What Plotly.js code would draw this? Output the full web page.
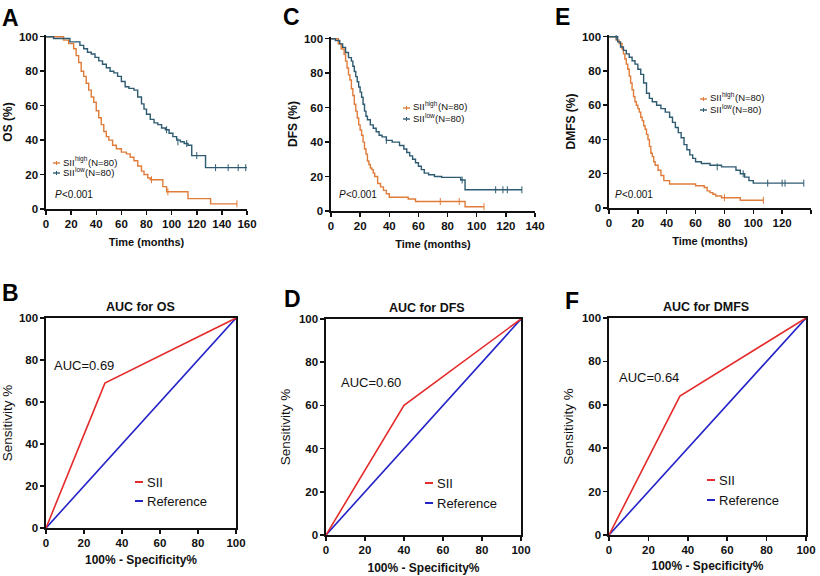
<!DOCTYPE html>
<html>
<head>
<meta charset="utf-8">
<script src="https://cdn.plot.ly/plotly-3.0.1.min.js"></script>
<style>
  html, body { margin: 0; padding: 0; background: #fff; }
  #chart { width: 820px; height: 576px; }
</style>
</head>
<body>
<div id="chart"></div>
<script>
// ---- Kaplan-Meier data (time in months, survival in %) ----
// A: OS
const osHighT = [0,14,18,22,24,26,28,30,32,34,36,38,40,42,44,46,48,50,53,56,60,64,67,70,73,76,78,81,83,93,96,113,131,152];
const osHighS = [100,98,96,93,89,85,80,77,73,69,65,62,57,53,49,45,42,40,37,35,33,32,30,28,25,22,20,18,17,13,10,6,3,3];
const osLowT = [0,6,19,27,30,33,36,39,42,45,48,51,54,57,60,63,66,70,73,76,78,80,83,86,89,92,95,98,101,104,107,110,113,116,127,160];
const osLowS = [100,99,97,95,93,91,90,88,86,84,82,80,79,77,74,71,70,69,65,61,58,55,52,50,49,47,46,44,42,40,39,38,37,31,24,24];
const osHighCensT = [84, 97, 152];
const osHighCensS = [17, 10, 3];
const osLowCensT = [96, 105, 112, 120, 135, 145, 153, 159];
const osLowCensS = [46, 39, 38, 31, 24, 24, 24, 24];

// C: DFS
const dfsHighT = [0,5,7,9,10,11,12,13,14,15,16,17,18,19,20,21,22,23,24,25,26,27,28,29,30,32,34,36,38,40,53,58,92,105];
const dfsHighS = [100,97,94,91,87,83,79,76,71,67,62,58,54,50,47,44,40,36,33,29,27,25,24,22,20,16,14,12,10,8,7,5.5,2.5,2.5];
const dfsLowT = [0,3,6,8,10,12,14,15,16,17,18,19,20,21,22,23,24,25,27,29,31,33,35,38,42,47,50,52,54,56,58,60,62,64,67,71,76,89,92,131];
const dfsLowS = [100,99,97,95,92,89,87,84,81,78,75,72,69,66,62,58,55,53,50,48,46,44,43,41,40,38,36,34,32,30,28,26,24,22,21,20,19.5,18,12.3,12.3];
const dfsHighCensT = [75, 88, 105];
const dfsHighCensS = [5.5, 5.5, 2.5];
const dfsLowCensT = [38, 90, 113, 118, 121, 131];
const dfsLowCensS = [41, 18, 12.3, 12.3, 12.3, 12.3];

// E: DMFS
const dmfsHighT = [0,5,7,9,10,11,12,13,14,15,16,17,18,19,20,21,22,23,24,25,26,27,28,29,30,31,32,34,36,38,42,60,66,68,70,72,74,78,91,107];
const dmfsHighS = [100,98,96,93,90,87,84,81,77,73,69,65,62,60,58,56,53,51,48,46,43,40,36,32,30,27,25,22,19,16,14,13,12,10,9,8,7,6,4.5,4.5];
const dmfsLowT = [0,6,8,10,12,14,16,18,20,22,24,26,28,30,33,36,39,42,44,46,48,50,52,54,56,58,60,64,70,78,88,91,94,97,100,135];
const dmfsLowS = [100,97,94,92,90,88,86,84,81,78,73,67,64,62,60,58,56,53,50,47,44,41,37,34,31,29,27,26,25,24,22,20,18,16,14.5,14.5];
const dmfsHighCensT = [80, 107];
const dmfsHighCensS = [6, 4.5];
const dmfsLowCensT = [5, 75, 93, 110, 120, 122, 135];
const dmfsLowCensS = [100, 24, 20, 14.5, 14.5, 14.5, 14.5];

// ---- ROC data (100% - specificity, sensitivity) ----
const rocOsX = [0, 31, 100];
const rocOsY = [0, 69, 100];
const rocDfsX = [0, 40, 100];
const rocDfsY = [0, 60, 100];
const rocDmfsX = [0, 36, 100];
const rocDmfsY = [0, 64, 100];
const refX = [0, 100];
const refY = [0, 100];

const aucLabels = ['AUC=0.69', 'AUC=0.60', 'AUC=0.64'];
const rocTitles = ['AUC for OS', 'AUC for DFS', 'AUC for DMFS'];
const kmYTitles = ['OS (%)', 'DFS (%)', 'DMFS (%)'];
const groupNames = ['high', 'low'];

const ORANGE = '#E07C3A';
const TEAL = '#2E5B72';
const RED = '#E52B2B';
const BLUE = '#2323C8';
const FONT = 'Liberation Sans, Arial, sans-serif';

const W = 820, H = 576;
const px = x => x / W;
const py = y => 1 - y / H;

// text width, used to place the superscript pieces of the legends
const ctx = document.createElement('canvas').getContext('2d');
function textW(s, size, style) {
  ctx.font = (style || '') + ' ' + size + 'px "Liberation Sans", Arial, sans-serif';
  return ctx.measureText(s).width;
}

function kmPair(hT, hS, lT, lS, hcT, hcS, lcT, lcS, n) {
  const xa = 'x' + (n === 1 ? '' : n), ya = 'y' + (n === 1 ? '' : n);
  return [
    { x: hT, y: hS, xaxis: xa, yaxis: ya, mode: 'lines', line: { shape: 'hv', color: ORANGE, width: 1.4 }, showlegend: false, hoverinfo: 'skip' },
    { x: lT, y: lS, xaxis: xa, yaxis: ya, mode: 'lines', line: { shape: 'hv', color: TEAL, width: 1.4 }, showlegend: false, hoverinfo: 'skip' },
    { x: hcT, y: hcS, xaxis: xa, yaxis: ya, mode: 'markers', marker: { symbol: 'line-ns', size: 5, line: { color: ORANGE, width: 1 } }, showlegend: false, hoverinfo: 'skip' },
    { x: lcT, y: lcS, xaxis: xa, yaxis: ya, mode: 'markers', marker: { symbol: 'line-ns', size: 5, line: { color: TEAL, width: 1 } }, showlegend: false, hoverinfo: 'skip' }
  ];
}

function rocPair(sx, sy, n) {
  const xa = 'x' + n, ya = 'y' + n;
  return [
    { x: refX, y: refY, xaxis: xa, yaxis: ya, mode: 'lines', line: { color: BLUE, width: 1.6 }, showlegend: false, hoverinfo: 'skip' },
    { x: sx, y: sy, xaxis: xa, yaxis: ya, mode: 'lines', line: { color: RED, width: 1.6 }, showlegend: false, hoverinfo: 'skip' }
  ];
}

const data = [].concat(
  kmPair(osHighT, osHighS, osLowT, osLowS, osHighCensT, osHighCensS, osLowCensT, osLowCensS, 1),
  kmPair(dfsHighT, dfsHighS, dfsLowT, dfsLowS, dfsHighCensT, dfsHighCensS, dfsLowCensT, dfsLowCensS, 2),
  kmPair(dmfsHighT, dmfsHighS, dmfsLowT, dmfsLowS, dmfsHighCensT, dmfsHighCensS, dmfsLowCensT, dmfsLowCensS, 3),
  rocPair(rocOsX, rocOsY, 4),
  rocPair(rocDfsX, rocDfsY, 5),
  rocPair(rocDmfsX, rocDmfsY, 6)
);

const tickFont = { family: FONT, size: 11.5, color: '#111', weight: 'bold' };

function baseAx() {
  return { showline: true, linecolor: '#111', linewidth: 1.6, ticks: 'outside', ticklen: 4, tickwidth: 1.5, tickcolor: '#111',
    showgrid: false, zeroline: false, tickfont: tickFont, fixedrange: true, automargin: false };
}
function kmX(dom, max, n) {
  return Object.assign(baseAx(), { domain: dom, range: [0, max], dtick: 20, anchor: 'y' + (n === 1 ? '' : n),
    title: { text: 'Time (months)', font: { family: FONT, size: 11, color: '#111', weight: 'bold' }, standoff: 9 } });
}
function kmY(dom, n, title) {
  return Object.assign(baseAx(), { domain: dom, range: [0, 101], tickvals: [0, 20, 40, 60, 80, 100], anchor: 'x' + (n === 1 ? '' : n),
    title: { text: title, font: { family: FONT, size: 12, color: '#111', weight: 'bold' }, standoff: 4 } });
}
function rocX(dom, n, standoff) {
  return Object.assign(baseAx(), { domain: dom, range: [0, 100], dtick: 20, anchor: 'y' + n, mirror: true,
    title: { text: '100% - Specificity%', font: { family: FONT, size: 12, color: '#111', weight: 'bold' }, standoff: standoff } });
}
function rocY(dom, n) {
  return Object.assign(baseAx(), { domain: dom, range: [0, 100], dtick: 20, anchor: 'x' + n, mirror: true,
    title: { text: 'Sensitivity %', font: { family: FONT, size: 13.5, color: '#111' }, standoff: 5 } });
}

const ann = [];
function txt(x, y, text, font, opts) {
  ann.push(Object.assign({ xref: 'paper', yref: 'paper', x: px(x), y: py(y), text: text, showarrow: false,
    xanchor: 'left', yanchor: 'middle', borderpad: 0,
    font: Object.assign({ family: FONT, size: 10, color: '#111' }, font || {}) }, opts || {}));
}
const shapes = [];
function glyph(x0, x1, y, color, width, tick) {
  shapes.push({ type: 'line', xref: 'paper', yref: 'paper', x0: px(x0), x1: px(x1), y0: py(y), y1: py(y), line: { color: color, width: width } });
  if (tick) {
    const xm = (x0 + x1) / 2;
    shapes.push({ type: 'line', xref: 'paper', yref: 'paper', x0: px(xm), x1: px(xm), y0: py(y - 2), y1: py(y + 2), line: { color: color, width: 1 } });
  }
}

// panel letters
const letters = [['A', 1, 18], ['C', 282, 17], ['E', 554, 17], ['B', 1, 293], ['D', 283, 299], ['F', 564, 301]];
letters.forEach(l => txt(l[1], l[2], l[0], { size: 23, color: '#000', weight: 'bold' }));

// KM legends: "SII" + superscript group + "(N=80)"
const legSize = 9.5, supSize = 6.5;
const kmLeg = [[53, 162, 172], [403, 107, 118], [700, 98, 109]];
kmLeg.forEach(l => {
  [ORANGE, TEAL].forEach((c, g) => {
    const y = l[g + 1];
    const x0 = l[0] + 9;
    glyph(l[0], l[0] + 7, y + 1, c, 1.4, true);
    txt(x0, y, 'SII', { size: legSize });
    const xs = x0 + textW('SII', legSize) + 0.5;
    txt(xs, y - 3, groupNames[g], { size: supSize });
    txt(xs + textW(groupNames[g], supSize) + 0.5, y, '(N=80)', { size: legSize });
  });
});
// P values
[[54, 194], [338, 194], [614, 194]].forEach(p => {
  txt(p[0], p[1], 'P', { size: 10, style: 'italic' });
  txt(p[0] + textW('P', 10, 'italic') + 0.3, p[1], '<0.001', { size: 10 });
});

// ROC titles, AUC labels, legends
const rocTitlePos = [[140, 307], [427, 308], [706, 307]];
const aucPos = [[53, 365], [340, 382], [618, 377]];
const rocLeg = [[135, 482, 501], [425, 483, 503], [707, 480, 500]];
for (let i = 0; i < 3; i++) {
  txt(rocTitlePos[i][0], rocTitlePos[i][1], rocTitles[i], { size: 12.5, weight: 'bold' }, { xanchor: 'center' });
  txt(aucPos[i][0], aucPos[i][1], aucLabels[i], { size: 13 });
  glyph(rocLeg[i][0], rocLeg[i][0] + 8, rocLeg[i][1], RED, 2, false);
  glyph(rocLeg[i][0], rocLeg[i][0] + 8, rocLeg[i][2], BLUE, 2, false);
  txt(rocLeg[i][0] + 11, rocLeg[i][1], 'SII', { size: 13 });
  txt(rocLeg[i][0] + 11, rocLeg[i][2], 'Reference', { size: 13 });
}

const layout = {
  width: W, height: H,
  margin: { l: 0, r: 0, t: 0, b: 0 },
  paper_bgcolor: '#fff', plot_bgcolor: '#fff',
  showlegend: false,
  font: { family: FONT, color: '#111' },
  xaxis: kmX([px(46), px(247)], 160, 1),
  yaxis: kmY([py(209), py(35)], 1, kmYTitles[0]),
  xaxis2: kmX([px(331), px(535)], 140, 2),
  yaxis2: kmY([py(211), py(37)], 2, kmYTitles[1]),
  xaxis3: kmX([px(609), px(811)], 140, 3),
  yaxis3: kmY([py(208), py(35)], 3, kmYTitles[2]),
  xaxis4: rocX([px(46), px(236)], 4, 7),
  yaxis4: rocY([py(528), py(318)], 4),
  xaxis5: rocX([px(326), px(521)], 5, 8),
  yaxis5: rocY([py(535), py(319)], 5),
  xaxis6: rocX([px(609), px(806)], 6, 6),
  yaxis6: rocY([py(535), py(318)], 6),
  annotations: ann,
  shapes: shapes
};

Plotly.newPlot('chart', data, layout, { staticPlot: true, displayModeBar: false });
</script>
</body>
</html>
